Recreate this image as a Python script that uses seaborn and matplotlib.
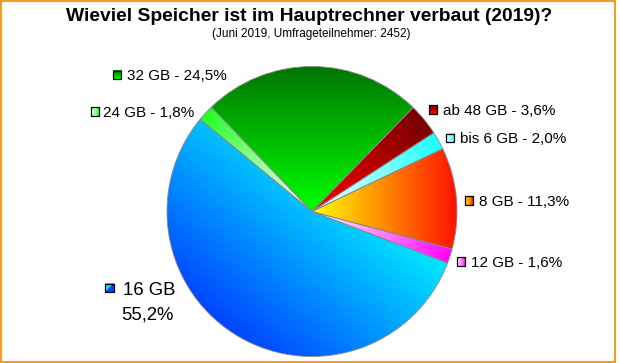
import numpy as np
import seaborn as sns
import matplotlib.pyplot as plt
from matplotlib.colors import to_rgb
from matplotlib.patches import Rectangle

# data (clockwise, starting at the top right)
labels = ["ab 48 GB", "bis 6 GB", "8 GB", "12 GB", "16 GB", "24 GB", "32 GB"]
shares = [3.6, 2.0, 11.3, 1.6, 55.2, 1.8, 24.5]
value_text = ["3,6%", "2,0%", "11,3%", "1,6%", "55,2%", "1,8%", "24,5%"]

# gradient colours per slice: (start colour, end colour)
grad_colors = [("#ff0000", "#780000"), ("#ffffff", "#1affff"), ("#ffff00", "#ff1000"),
               ("#ffffff", "#ff00ff"), ("#0044ff", "#00eaff"), ("#ffffff", "#22ff22"),
               ("#007400", "#00ff00")]

W, H = 620, 363
sns.set_theme(style="white")
plt.rcParams["font.family"] = ["Liberation Sans", "DejaVu Sans"]

fig = plt.figure(figsize=(W / 100, H / 100), dpi=100)
ax = fig.add_axes([0, 0, 1, 1])


def px(x, y):
    return x, H - y


def gradient(ax, xs, ys, c0, c1, d, clip=None, z=1):
    # linear gradient over the bbox of (xs, ys) along direction d
    d = np.asarray(d, float) / np.hypot(*d)
    x0, x1, y0, y1 = xs.min(), xs.max(), ys.min(), ys.max()
    gx, gy = np.meshgrid(np.linspace(x0, x1, 200), np.linspace(y0, y1, 200))
    proj = gx * d[0] + gy * d[1]
    pv = xs * d[0] + ys * d[1]
    t = np.clip((proj - pv.min()) / (pv.max() - pv.min()), 0, 1)[..., None]
    img = np.array(to_rgb(c0)) * (1 - t) + np.array(to_rgb(c1)) * t
    im = ax.imshow(img, extent=[x0, x1, y0, y1], origin="lower", aspect="auto",
                   interpolation="bilinear", zorder=z)
    if clip is not None:
        im.set_clip_path(clip)


cx, cy = px(312, 211.5)
R = 145
start = 45.8
wedges, _ = ax.pie(shares, startangle=start, counterclock=False, center=(cx, cy), radius=R,
                   wedgeprops=dict(facecolor="none", edgecolor="#888888", linewidth=0.6, zorder=3))

# gradient direction per slice
angles = []
a = start
for s in shares:
    angles.append(a - s * 3.6 / 2)
    a -= s * 3.6
dirs = [(np.cos(np.deg2rad(am)), np.sin(np.deg2rad(am))) for am in angles]
dirs[2] = (1, 0)            # 8 GB: left to right
dirs[4] = (1, 1.2)          # 16 GB: bottom left to top right
dirs[6] = (0, -1)           # 32 GB: top to bottom

for w, (c0, c1), d in zip(wedges, grad_colors, dirs):
    v = w.get_path().vertices
    gradient(ax, v[:, 0], v[:, 1], c0, c1, d, clip=w, z=1)

# labels with small gradient squares
fs = 11
cap = 0.716 * fs * 100 / 72
lab_pos = {  # square centre x, y ; text x
    "ab 48 GB": (433, 109.5, 443),
    "bis 6 GB": (450, 138, 460),
    "8 GB": (469, 200.7, 479),
    "12 GB": (461, 261.7, 471),
    "24 GB": (95, 111.7, 103),
    "32 GB": (117, 75, 127),
    "16 GB": (109.5, 288, 123),
}
sq_dirs = {"ab 48 GB": (0, 1), "bis 6 GB": (1, 0), "8 GB": (1, 0), "12 GB": (1, 0),
           "24 GB": (1, 0), "32 GB": (0, -1), "16 GB": (1, -1)}
sq = 8.5
for lab, val, (c0, c1) in zip(labels, value_text, grad_colors):
    sx, sy, tx = lab_pos[lab]
    x, y = px(sx, sy)
    xs = np.array([x - sq / 2, x + sq / 2])
    ys = np.array([y - sq / 2, y + sq / 2])
    if lab == "16 GB":
        c0, c1 = c1, c0
    gradient(ax, xs, ys, c0, c1, sq_dirs[lab], z=4)
    ax.add_patch(Rectangle((xs[0], ys[0]), sq, sq, fill=False, edgecolor="black", lw=0.9, zorder=5))
    if lab == "16 GB":
        big = 13.3
        bcap = 0.716 * big * 100 / 72
        ax.text(*px(tx, sy + bcap / 2), lab, fontsize=big, va="baseline", ha="left", color="black")
        ax.text(*px(121.7, 313 + bcap / 2), val, fontsize=big, va="baseline", ha="left", color="black")
    else:
        ax.text(*px(tx, sy + cap / 2), f"{lab} - {val}", fontsize=fs, va="baseline", ha="left",
                color="black")

ax.text(*px(309, 20.7), "Wieviel Speicher ist im Hauptrechner verbaut (2019)?", fontsize=13.9,
        fontweight="bold", ha="center", va="baseline", color="black")
ax.text(*px(311, 37), "(Juni 2019, Umfrageteilnehmer: 2452)", fontsize=8.5, ha="center",
        va="baseline", color="black")

ax.set_xlim(0, W)
ax.set_ylim(0, H)
ax.set_aspect("auto")
ax.axis("off")

# orange frame
fig.patches.append(Rectangle((1 / W, 1 / H), 614 / W, 361 / H, transform=fig.transFigure,
                             fill=False, edgecolor="#f39c26", linewidth=1.5))

fig.savefig("out.png", dpi=100, facecolor="white")
